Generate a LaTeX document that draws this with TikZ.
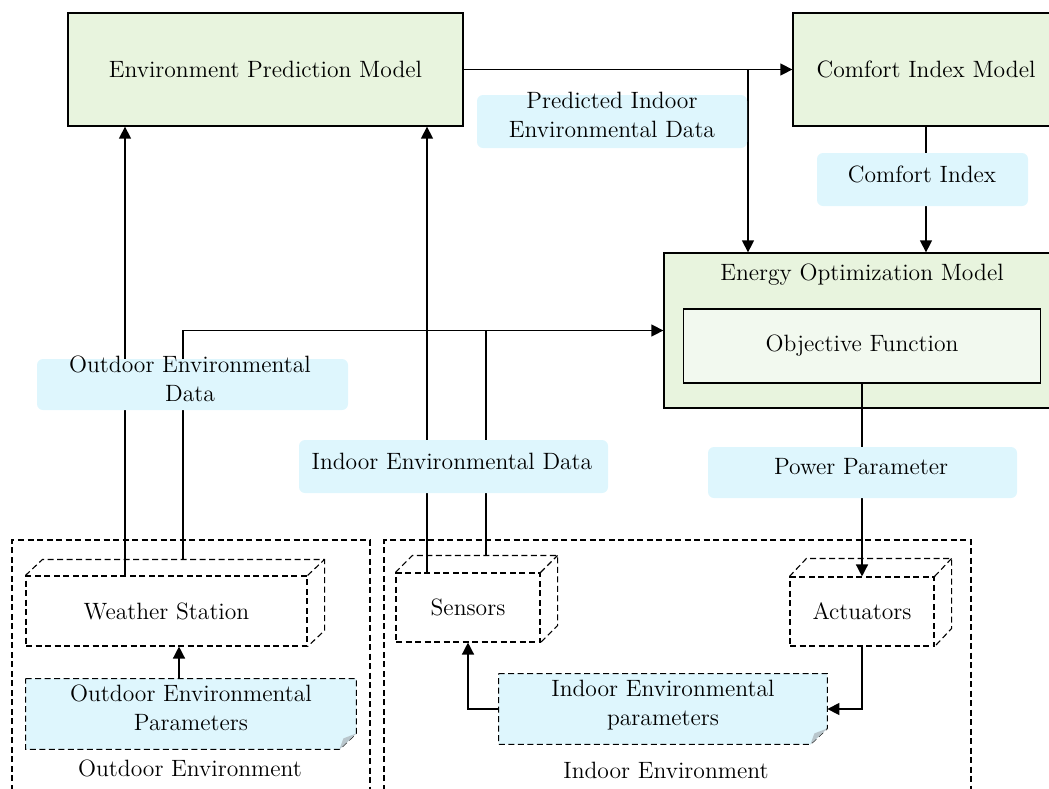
\documentclass[tikz,border=0pt]{standalone}
\usetikzlibrary{arrows.meta}
\pgfdeclarelayer{background}
\pgfsetlayers{background,main}
\definecolor{modelgreen}{RGB}{232,244,222}
\definecolor{innergreen}{RGB}{242,249,239}
\definecolor{databg}{RGB}{222,246,253}
\definecolor{foldgray}{RGB}{185,198,204}
\newcommand{\lowfill}{\rule[-6pt]{0pt}{0pt}}
\tikzset{
  every node/.style={font=\fontsize{11.8pt}{14.5pt}\selectfont, align=center, inner sep=0pt},
  model/.style={draw, fill=modelgreen, line width=0.65pt},
  innermodel/.style={draw, fill=innergreen, line width=0.65pt},
  flow/.style={line width=0.7pt},
  arr/.style={flow, -{Triangle[length=6pt,width=6pt]}},
  dline/.style={line width=0.55pt, dash pattern=on 3pt off 1.75pt},
  device/.style={draw, dline},
  databg/.style={fill=databg, rounded corners=3pt},
  docline/.style={dline, fill=databg},
}
\begin{document}
\begin{tikzpicture}[x=0.5pt, y=-0.5pt]
\useasboundingbox (0,0) rectangle (1049,788);
\clip (0,0) rectangle (1049,788);

% models
\node[model, minimum width=197.5pt, minimum height=56.5pt] (epm) at (265.5,69.5) {Environment Prediction Model};
\node[model, minimum width=133pt, minimum height=56.5pt] (cim) at (926,69.5) {Comfort Index Model};
\node[model, minimum width=198pt, minimum height=77.5pt] (eom) at (862,330.5) {};
\node (eomt) at (862,275) {Energy Optimization Model};
\node[innermodel, minimum width=178.5pt, minimum height=37pt] (obj) at (862,346) {Objective Function};

% environment regions
\draw[dline] (12,800) -- (12,540) -- (370,540) -- (370,800);
\draw[dline] (384,800) -- (384,540) -- (971,540) -- (971,800);
\node (outlbl) at (190,768) {Outdoor Environment};
\node (inlbl) at (666,770) {Indoor Environment};

% devices drawn as dashed boxes with depth
\node[device, minimum width=140.5pt, minimum height=35pt] (ws) at (166.5,611) {Weather Station};
\draw[dline] (ws.north west) -- ++(17,-16) -- ([shift={(17,-16)}]ws.north east) -- ([shift={(17,-16)}]ws.south east) -- (ws.south east);
\draw[dline] (ws.north east) -- ++(17,-16);
\node[device, minimum width=72pt, minimum height=34.5pt] (sen) at (468,607.5) {Sensors};
\draw[dline] (sen.north west) -- ++(17,-17) -- ([shift={(17,-17)}]sen.north east) -- ([shift={(17,-17)}]sen.south east) -- (sen.south east);
\draw[dline] (sen.north east) -- ++(17,-17);
\node[device, minimum width=72pt, minimum height=34.5pt] (act) at (862,611.5) {Actuators};
\draw[dline] (act.north west) -- ++(17,-18) -- ([shift={(17,-18)}]act.north east) -- ([shift={(17,-18)}]act.south east) -- (act.south east);
\draw[dline] (act.north east) -- ++(17,-18);

% parameter documents
\node[minimum width=165pt, minimum height=35pt] (oep) at (191,714) {Outdoor Environmental\\Parameters\lowfill};
\node[minimum width=164pt, minimum height=35pt] (iep) at (663,709) {Indoor Environmental\\parameters\lowfill};
\begin{pgfonlayer}{background}
  \foreach \d in {oep,iep}{
    \draw[docline] (\d.north west) -- (\d.north east) -- ([yshift=8pt]\d.south east)
      -- ([xshift=-8.5pt]\d.south east) -- (\d.south west) -- cycle;
    \fill[foldgray] ([xshift=-8.5pt]\d.south east) -- ([shift={(-13,-11)}]\d.south east)
      -- ([yshift=8pt]\d.south east) -- cycle;
  }
\end{pgfonlayer}

% connectors
\coordinate (pj) at (748,69.5);
\coordinate (ws1) at (125,576);
\coordinate (ws2) at (183,560);
\coordinate (sn1) at (427,573);
\coordinate (sn2) at (486,556);
\coordinate (oa) at (179,679);
\draw[arr] (epm.east) -- (cim.west);
\draw[arr] (pj) -- (pj |- eom.north);
\draw[arr] (cim.south) -- (cim.south |- eom.north);
\draw[arr] (ws1) -- (ws1 |- epm.south);
\draw[arr] (ws2) |- (eom.west);
\draw[arr] (sn1) -- (sn1 |- epm.south);
\draw[flow] (sn2) -- (sn2 |- eom.west);
\draw[arr] (obj.south) -- (obj.south |- act.north);
\draw[arr] (act.south) |- (iep.east);
\draw[arr] (iep.west) -| (sen.south);
\draw[arr] (oa) -- (oa |- ws.south);

% data labels over the connectors
\node[databg, minimum width=135pt, minimum height=26.5pt] (pbg) at (612,121.5) {};
\node (ptx) at (612,115) {Predicted Indoor\\Environmental Data};
\node[databg, minimum width=105.5pt, minimum height=26.5pt] (cbg) at (922.5,179.5) {};
\node (ctx) at (922,174) {Comfort Index};
\node[databg, minimum width=155.5pt, minimum height=25.5pt] (obg) at (192.5,384.5) {};
\node (otx) at (190,379) {Outdoor Environmental\\Data};
\node[databg, minimum width=154.5pt, minimum height=26.5pt] (ibg) at (453.5,466.5) {};
\node (itx) at (452,461) {Indoor Environmental Data};
\node[databg, minimum width=154.5pt, minimum height=25.5pt] (wbg) at (862.5,472.5) {};
\node (wtx) at (861,467) {Power Parameter};
\end{tikzpicture}
\end{document}
